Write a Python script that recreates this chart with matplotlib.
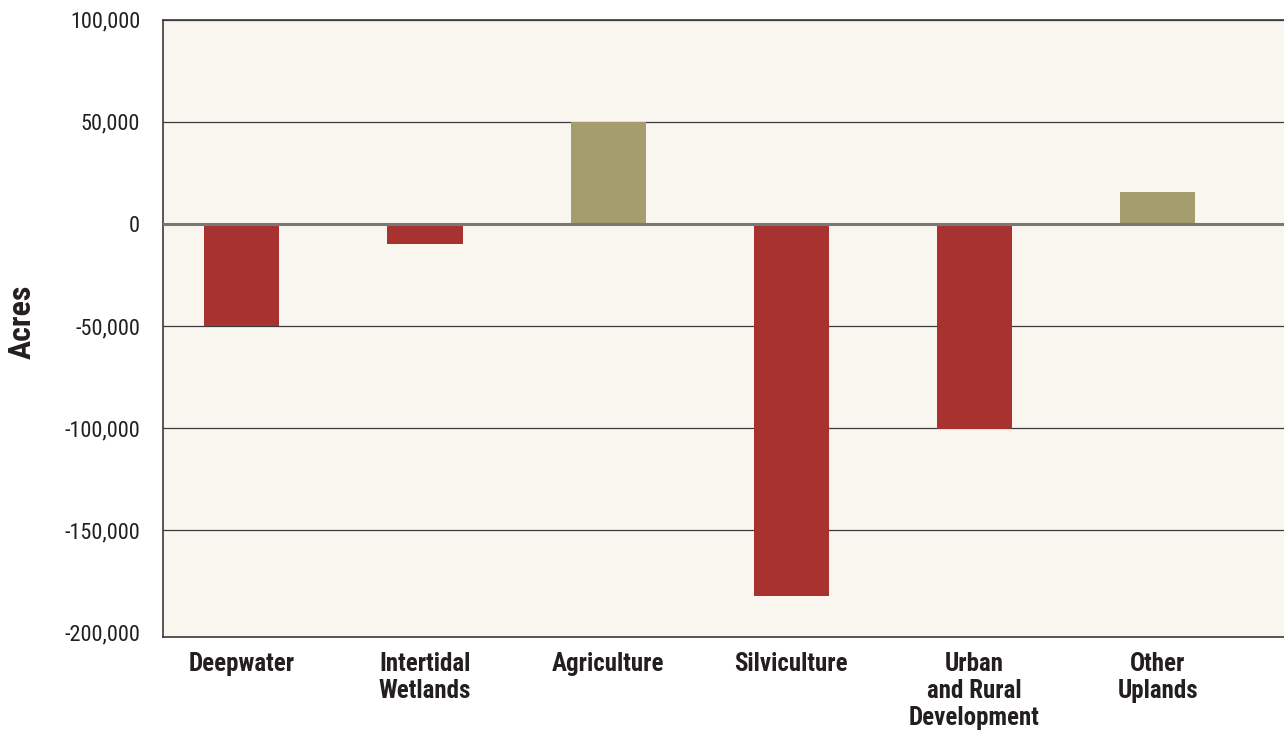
"""Net change in land cover, acres."""

import matplotlib.pyplot as plt
from matplotlib import font_manager
from matplotlib.ticker import FuncFormatter

categories = ['Deepwater', 'Intertidal\nWetlands', 'Agriculture', 'Silviculture',
              'Urban\nand Rural\nDevelopment', 'Other\nUplands']
acres = [-49800, -10000, 50000, -182000, -100500, 15800]
y_ticks = [-200000, -150000, -100000, -50000, 0, 50000, 100000]

RED = '#A8322F'
OLIVE = '#A59D6D'
BG = '#F9F6EF'
TEXT = '#231F20'

# pick a narrow face if there is one
installed = {f.name for f in font_manager.fontManager.ttflist}
narrow = [n for n in ['Liberation Sans Narrow', 'Roboto Condensed', 'DejaVu Sans Condensed',
                      'Open Sans Condensed'] if n in installed]
plt.rcParams['font.family'] = narrow + ['Roboto', 'DejaVu Sans']

fig = plt.figure(figsize=(12.84, 7.30), dpi=100)
# axes from y=19.7 px to y=636.7 px, x=163 px to the right edge
ax = fig.add_axes([0.127, 1 - 636.7 / 730, 0.873, 617 / 730])
ax.set_facecolor(BG)

x = list(range(len(categories)))
colors = [OLIVE if v > 0 else RED for v in acres]
ax.bar(x, acres, width=0.41, color=colors, zorder=2)

ax.set_ylim(-202100, 100000)
ax.set_xlim(-0.43, 5.69)
ax.set_yticks(y_ticks)
ax.yaxis.set_major_formatter(FuncFormatter(lambda v, p: f'{int(v):,}'))
ax.grid(axis='y', color='#3a3a3a', linewidth=0.9, zorder=1)
ax.get_ygridlines()[0].set_visible(False)  # the bottom spine stands in for it
ax.axhline(0, color='#7a7875', linewidth=2.2, zorder=3)

ax.set_xticks(x)
ax.set_xticklabels(categories, fontweight='bold', linespacing=1.15)
ax.tick_params(axis='x', length=0, pad=11, labelsize=18, labelcolor=TEXT)
ax.tick_params(axis='y', length=0, pad=16.5, labelsize=16, labelcolor=TEXT)

for side in ['left', 'bottom', 'top']:
    ax.spines[side].set_color('#3a3a3a')
    ax.spines[side].set_linewidth(1.2)
ax.spines['right'].set_visible(False)

ax.set_ylabel('Acres', fontsize=23, fontweight='bold', color=TEXT)
ax.yaxis.set_label_coords(-0.113, 0.51)

fig.savefig('out.png', dpi=100, facecolor='white')
